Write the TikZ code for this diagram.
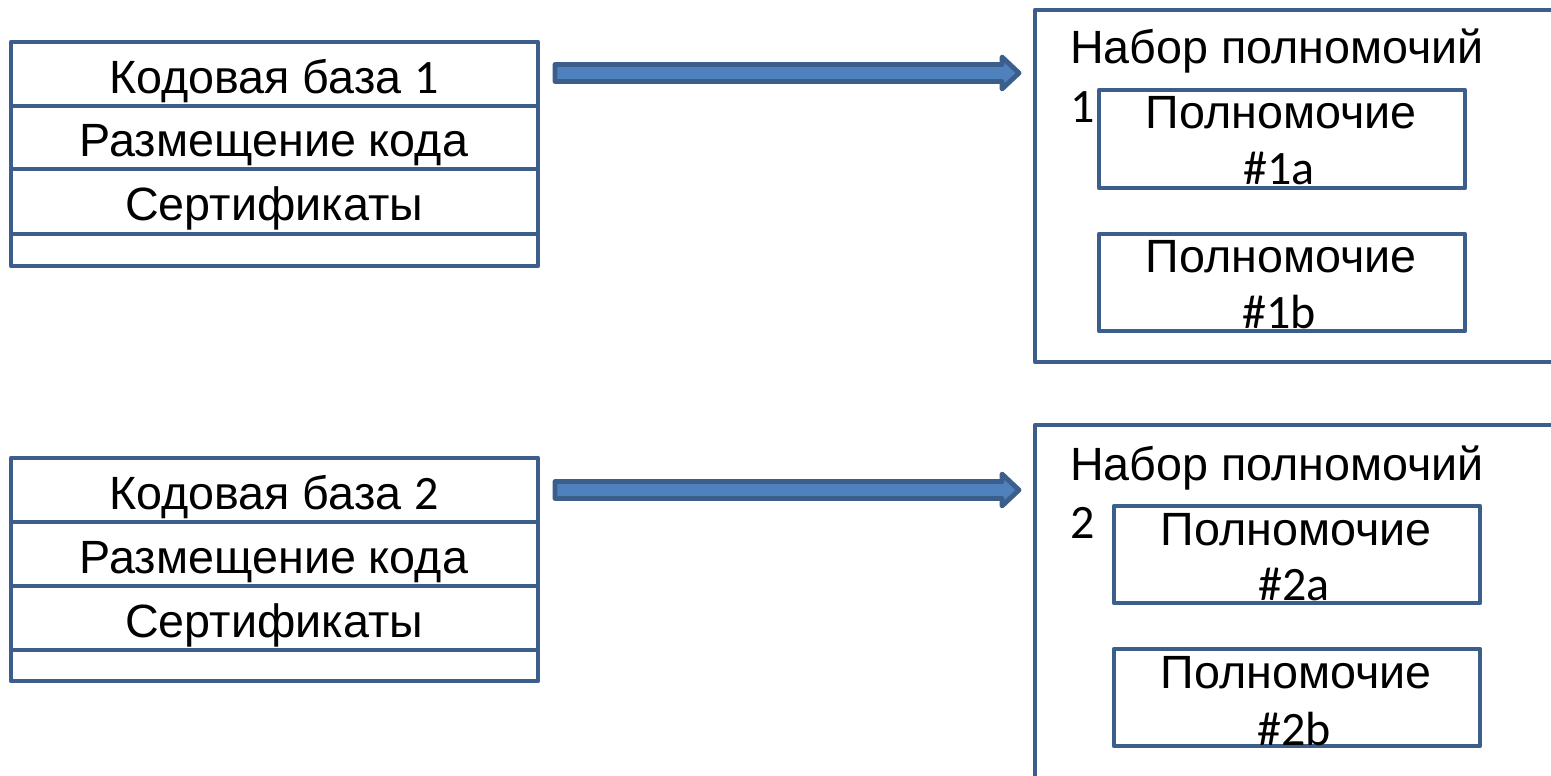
\documentclass[tikz,border=0pt]{standalone}
\usepackage{fontspec}
\setmainfont{Liberation Sans}
\newfontfamily\calfont{Carlito}
\usetikzlibrary{calc}
\definecolor{bord}{RGB}{60,94,138}
\definecolor{afill}{RGB}{79,129,189}
\newcommand\fatarrow[2]{%
  \draw[fatarr] ($(#1)+(0,-8.5)$) -- ($(#2)+(-17,-8.5)$) -- ($(#2)+(-17,-16)$) -- (#2)
    -- ($(#2)+(-17,16)$) -- ($(#2)+(-17,8.5)$) -- ($(#1)+(0,8.5)$) -- cycle;}
\begin{document}
\begin{tikzpicture}[x=0.75pt,y=-0.75pt,line width=3.6pt,
  box/.style={draw=bord,rectangle,inner sep=0pt,outer sep=0pt,line join=round,anchor=north west},
  sepline/.style={draw=bord},
  fatarr/.style={draw=bord,fill=afill,line join=round},
  txt/.style={inner sep=0pt,outer sep=0pt,anchor=base,font=\fontsize{35}{42}\selectfont},
  ltxt/.style={txt,anchor=base west},
  cal/.style={txt,font=\fontsize{36}{43}\selectfont\calfont},
  lcal/.style={cal,anchor=base west}]
\clip (0,0) rectangle (1551,775);
\fill[white] (0,0) rectangle (1551,775);

% ---- left box 1 ----
\node[box,minimum width=395.25pt,minimum height=168pt] (cb1) at (11,42) {};
\draw[sepline] (11,106) -- (538,106);
\draw[sepline] (11,169) -- (538,169);
\draw[sepline] (11,234) -- (538,234);
\node[txt] (cb1a) at (274,93) {Кодовая база {\calfont\fontsize{36}{43}\selectfont 1}};
\node[txt] (cb1b) at (274,156) {Размещение кода};
\node[txt] (cb1c) at (274,220) {Сертификаты};

% ---- left box 2 ----
\node[box,minimum width=395.25pt,minimum height=167.25pt] (cb2) at (11,458) {};
\draw[sepline] (11,522) -- (538,522);
\draw[sepline] (11,586) -- (538,586);
\draw[sepline] (11,650) -- (538,650);
\node[txt] (cb2a) at (274,509) {Кодовая база {\calfont\fontsize{36}{43}\selectfont 2}};
\node[txt] (cb2b) at (274,573) {Размещение кода};
\node[txt] (cb2c) at (274,637) {Сертификаты};

% ---- right box 1 ----
\node[box,minimum width=423.75pt,minimum height=264pt] (ps1) at (1035,10) {};
\node[ltxt] (ps1t) at (1070,63) {Набор полномочий};
\node[lcal] (ps1n) at (1070,122) {1};
\node[box,minimum width=274.5pt,minimum height=73.5pt] (p1a) at (1099,90) {};
\node[txt] (p1at) at (1281,128) {Полномочие};
\node[cal] (p1an) at (1279,184) {\#1a};
\node[box,minimum width=274.5pt,minimum height=72.75pt] (p1b) at (1099,234) {};
\node[txt] (p1bt) at (1281,272) {Полномочие};
\node[cal] (p1bn) at (1279,328) {\#1b};

% ---- right box 2 ----
\node[box,minimum width=423.75pt,minimum height=300pt] (ps2) at (1035,425) {};
\node[ltxt] (ps2t) at (1070,480) {Набор полномочий};
\node[lcal] (ps2n) at (1070,538) {2};
\node[box,minimum width=274.5pt,minimum height=72.75pt] (p2a) at (1114,506) {};
\node[txt] (p2at) at (1296,545) {Полномочие};
\node[cal] (p2an) at (1294,600) {\#2a};
\node[box,minimum width=274.5pt,minimum height=72.75pt] (p2b) at (1114,649) {};
\node[txt] (p2bt) at (1296,688) {Полномочие};
\node[cal] (p2bn) at (1294,745) {\#2b};

% ---- arrows ----
\coordinate (a1s) at ($(cb1.north east)+(17,31)$);
\coordinate (a1e) at ($(ps1.north west)+(-16,63)$);
\coordinate (a2s) at ($(cb2.north east)+(17,32)$);
\coordinate (a2e) at ($(ps2.north west)+(-16,65)$);
\fatarrow{a1s}{a1e}
\fatarrow{a2s}{a2e}
\end{tikzpicture}
\end{document}
